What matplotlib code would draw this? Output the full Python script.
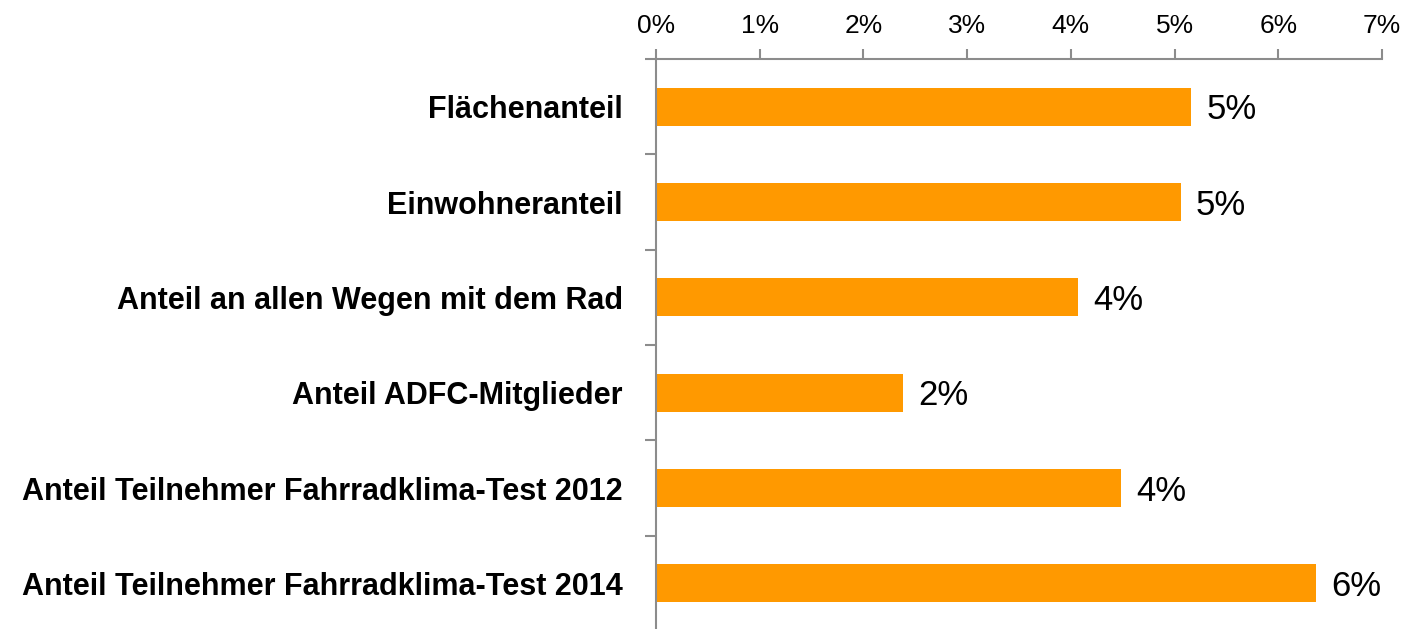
import numpy as np
import matplotlib.pyplot as plt
from matplotlib.ticker import FixedLocator

categories = [
    "Flächenanteil",
    "Einwohneranteil",
    "Anteil an allen Wegen mit dem Rad",
    "Anteil ADFC-Mitglieder",
    "Anteil Teilnehmer Fahrradklima-Test 2012",
    "Anteil Teilnehmer Fahrradklima-Test 2014",
]
values = [5.16, 5.06, 4.07, 2.38, 4.48, 6.36]
value_labels = ["5%", "5%", "4%", "2%", "4%", "6%"]
x_ticks = [0, 1, 2, 3, 4, 5, 6, 7]
x_tick_labels = [f"{t}%" for t in x_ticks]

font = ["Liberation Sans Narrow", "Liberation Sans", "DejaVu Sans"]
plt.rcParams["font.family"] = font

fig = plt.figure(figsize=(14.02, 6.29), dpi=100)
ax = fig.add_axes([656 / 1402, -2 / 629, 726 / 1402, 572 / 629])

y = np.arange(len(categories))
ax.barh(y, values, height=0.4, color="#FF9900", zorder=2)

# value labels right of each bar, baseline shifted so digits sit centred on the bar
for yi, v, lab in zip(y, values, value_labels):
    ax.annotate(lab, (v, yi), xytext=(11, -9), textcoords="offset points",
                va="baseline", ha="left", fontsize=25, color="black")

ax.set_xlim(0, 7)
ax.set_ylim(len(categories) - 0.5, -0.5)

ax.xaxis.tick_top()
ax.set_xticks(x_ticks)
ax.set_xticklabels(x_tick_labels, fontsize=19)
ax.tick_params(axis="x", direction="out", length=7, width=1.5, color="#8c8c8c", pad=8)

ax.set_yticks(y)
ax.set_yticklabels(categories, fontsize=22, fontweight="bold")
ax.tick_params(axis="y", which="major", length=0, pad=24)
ax.yaxis.set_minor_locator(FixedLocator(np.arange(-0.5, len(categories), 1.0)))
ax.tick_params(axis="y", which="minor", direction="out", length=8, width=1.5, color="#8c8c8c")

for side in ["right", "bottom"]:
    ax.spines[side].set_visible(False)
for side in ["top", "left"]:
    ax.spines[side].set_color("#8c8c8c")
    ax.spines[side].set_linewidth(1.5)

fig.savefig("out.png", dpi=100)
